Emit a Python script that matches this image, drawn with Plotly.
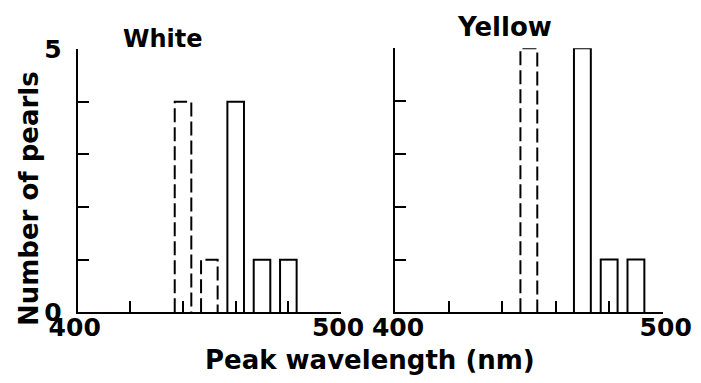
import plotly.graph_objects as go

# ---- data ----
white_dashed_wl = [440, 450]
white_dashed_n = [4, 1]
white_solid_wl = [460, 470, 480]
white_solid_n = [4, 1, 1]
yellow_dashed_wl = [450]
yellow_dashed_n = [5]
yellow_solid_wl = [470, 480, 490]
yellow_solid_n = [5, 1, 1]
bar_width = 6.3

x_tickvals = [400, 420, 440, 460, 480, 500]
x_ticktext = ["400", "", "", "", "", "500"]
y_tickvals = [0, 1, 2, 3, 4, 5]
y_ticktext = ["0", "", "", "", "", "5"]

FONT = "DejaVu Sans"


def outline(centers, counts, w):
    xs, ys = [], []
    for c, n in zip(centers, counts):
        l, r = c - w / 2, c + w / 2
        xs += [l, l, r, r, None]
        ys += [0, n, n, 0, None]
    return xs, ys


fig = go.Figure()


def add_bars(centers, counts, xa, ya, dash):
    xs, ys = outline(centers, counts, bar_width)
    fig.add_trace(go.Scatter(x=xs, y=ys, mode="lines", xaxis=xa, yaxis=ya,
                             line=dict(color="black", width=2, dash=dash),
                             showlegend=False, hoverinfo="skip"))


add_bars(white_dashed_wl, white_dashed_n, "x", "y", "14px,5px")
add_bars(white_solid_wl, white_solid_n, "x", "y", "solid")
add_bars(yellow_dashed_wl, yellow_dashed_n, "x2", "y2", "14px,5px")
add_bars(yellow_solid_wl, yellow_solid_n, "x2", "y2", "solid")

# page body has an 8px margin -> figure drawn at (8, 8) in the window
W, H = 693, 375
OFF = 8


def px(xr):
    return (xr - OFF) / W


def py(yr):
    return (H - (yr - OFF)) / H


ax_common = dict(showline=True, linecolor="black", linewidth=2, ticks="inside",
                 ticklen=11, tickwidth=2, tickcolor="black", showgrid=False,
                 zeroline=False, mirror=False, automargin=False,
                 tickfont=dict(family=FONT, size=25, color="black", weight="bold"))

fig.update_layout(
    width=W, height=H, margin=dict(l=0, r=0, t=0, b=0, autoexpand=False),
    paper_bgcolor="white", plot_bgcolor="white",
    xaxis=dict(domain=[px(77.7), px(341)], range=[400, 500], anchor="y",
               tickvals=x_tickvals, ticktext=x_ticktext, ticklabelstandoff=-8,
               ticklabelshift=-3, **ax_common),
    yaxis=dict(domain=[py(312.3), py(49)], range=[0, 5], anchor="x",
               tickvals=y_tickvals, ticktext=y_ticktext, ticklabelstandoff=9, **ax_common),
    xaxis2=dict(domain=[px(395), px(662.7)], range=[400, 500], anchor="y2",
                tickvals=x_tickvals, ticktext=x_ticktext, ticklabelstandoff=-8,
                ticklabelshift=3, **ax_common),
    yaxis2=dict(domain=[py(312.3), py(48.3)], range=[0, 5], anchor="x2",
                tickvals=y_tickvals, showticklabels=False, **ax_common),
)


def ann(text, xr, yr, size, angle=0):
    fig.add_annotation(text=text, x=px(xr), y=py(yr), xref="paper", yref="paper",
                       showarrow=False, textangle=angle,
                       font=dict(family=FONT, size=size, color="black", weight="bold"),
                       xanchor="center", yanchor="middle")


ann("White", 163, 38.5, 24)
ann("Yellow", 504, 27, 26)
ann("Peak wavelength (nm)", 370, 360, 26)
ann("Number of pearls", 29, 199, 26, -90)

fig.write_html("out.html")
